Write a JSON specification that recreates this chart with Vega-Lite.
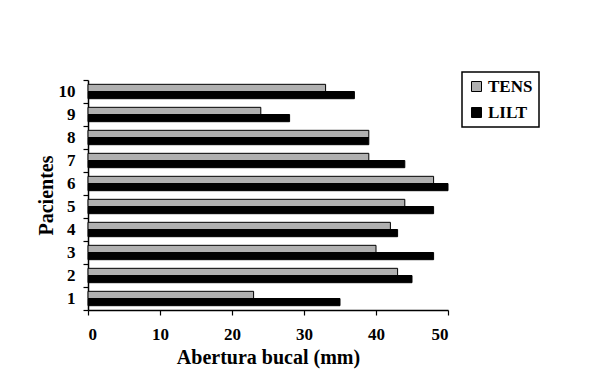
{
  "$schema": "https://vega.github.io/schema/vega-lite/v6.json",
  "width": 360,
  "height": 230,
  "autosize": {"type": "none"},
  "padding": {"left": 88, "top": 80, "right": 153, "bottom": 71},
  "background": "white",
  "config": {
    "view": {"stroke": null},
    "font": "Liberation Serif"
  },
  "data": {
    "values": [
      {"paciente": "1", "serie": "TENS", "valor": 23},
      {"paciente": "1", "serie": "LILT", "valor": 35},
      {"paciente": "2", "serie": "TENS", "valor": 43},
      {"paciente": "2", "serie": "LILT", "valor": 45},
      {"paciente": "3", "serie": "TENS", "valor": 40},
      {"paciente": "3", "serie": "LILT", "valor": 48},
      {"paciente": "4", "serie": "TENS", "valor": 42},
      {"paciente": "4", "serie": "LILT", "valor": 43},
      {"paciente": "5", "serie": "TENS", "valor": 44},
      {"paciente": "5", "serie": "LILT", "valor": 48},
      {"paciente": "6", "serie": "TENS", "valor": 48},
      {"paciente": "6", "serie": "LILT", "valor": 50},
      {"paciente": "7", "serie": "TENS", "valor": 39},
      {"paciente": "7", "serie": "LILT", "valor": 44},
      {"paciente": "8", "serie": "TENS", "valor": 39},
      {"paciente": "8", "serie": "LILT", "valor": 39},
      {"paciente": "9", "serie": "TENS", "valor": 24},
      {"paciente": "9", "serie": "LILT", "valor": 28},
      {"paciente": "10", "serie": "TENS", "valor": 33},
      {"paciente": "10", "serie": "LILT", "valor": 37}
    ]
  },
  "mark": {"type": "bar", "stroke": "black", "strokeWidth": 1},
  "encoding": {
    "y": {
      "field": "paciente",
      "type": "ordinal",
      "sort": ["10", "9", "8", "7", "6", "5", "4", "3", "2", "1"],
      "scale": {"paddingInner": 0, "paddingOuter": 0},
      "axis": {
        "title": "Pacientes",
        "titleFont": "Liberation Serif",
        "titleFontSize": 20,
        "titleFontWeight": "bold",
        "titleColor": "black",
        "titlePadding": 2,
        "labelFont": "Liberation Serif",
        "labelFontSize": 17,
        "labelFontWeight": "bold",
        "labelColor": "black",
        "labelPadding": 8,
        "labelAngle": 0,
        "tickBand": "extent",
        "tickSize": 5,
        "tickColor": "black",
        "domainColor": "black",
        "domainWidth": 1.5,
        "tickWidth": 1.2
      }
    },
    "yOffset": {
      "field": "serie",
      "type": "nominal",
      "sort": ["TENS", "LILT"],
      "scale": {"paddingOuter": 0.6, "paddingInner": 0}
    },
    "x": {
      "field": "valor",
      "type": "quantitative",
      "scale": {"domain": [0, 50], "nice": false},
      "axis": {
        "title": "Abertura bucal (mm)",
        "titleFont": "Liberation Serif",
        "titleFontSize": 20,
        "titleFontWeight": "bold",
        "titleColor": "black",
        "titlePadding": 5,
        "labelFont": "Liberation Serif",
        "labelFontSize": 17,
        "labelFontWeight": "bold",
        "labelColor": "black",
        "labelPadding": 11,
        "values": [0, 10, 20, 30, 40, 50],
        "grid": false,
        "tickSize": 5,
        "tickColor": "black",
        "domainColor": "black",
        "domainWidth": 1.5,
        "tickWidth": 1.2
      }
    },
    "color": {
      "field": "serie",
      "type": "nominal",
      "sort": ["TENS", "LILT"],
      "scale": {"domain": ["TENS", "LILT"], "range": ["#b0b0b0", "#000000"]},
      "legend": {
        "title": null,
        "orient": "none",
        "legendX": 374,
        "legendY": -8,
        "padding": 6,
        "strokeColor": "black",
        "fillColor": "white",
        "symbolType": "square",
        "symbolSize": 100,
        "symbolStrokeColor": "black",
        "symbolStrokeWidth": 1,
        "labelFont": "Liberation Serif",
        "labelFontSize": 17,
        "labelFontWeight": "bold",
        "labelColor": "black",
        "labelOffset": 3,
        "rowPadding": 8,
        "encode": {"legend": {"update": {"strokeWidth": {"value": 1.5}}}}
      }
    }
  }
}
